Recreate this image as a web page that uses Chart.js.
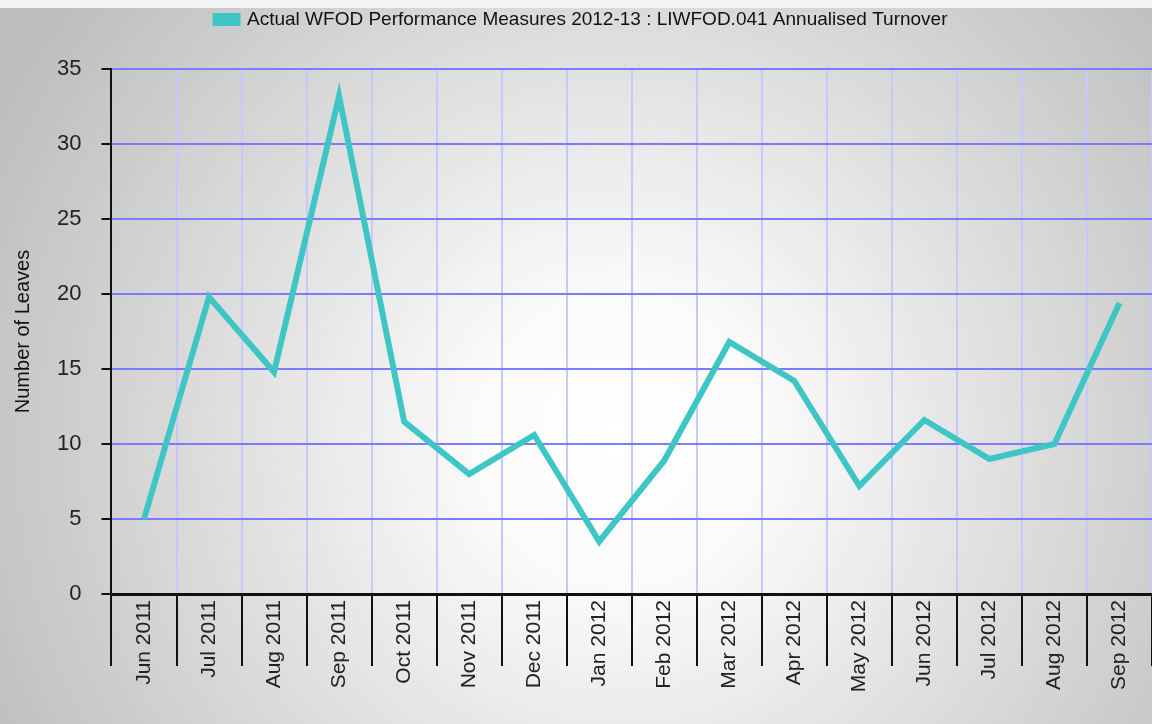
<!DOCTYPE html>
<html>
<head>
<meta charset="utf-8">
<script src="https://cdn.jsdelivr.net/npm/chart.js@4"></script>
<style>
html,body{margin:0;padding:0;background:#ffffff;}
#wrap{width:1152px;height:724px;}
</style>
</head>
<body>
<div id="wrap"><canvas id="c" width="1152" height="724"></canvas></div>
<script>
const categories = ["Jun 2011","Jul 2011","Aug 2011","Sep 2011","Oct 2011","Nov 2011","Dec 2011","Jan 2012","Feb 2012","Mar 2012","Apr 2012","May 2012","Jun 2012","Jul 2012","Aug 2012","Sep 2012"];
const turnover = [5.0,19.8,14.8,33.2,11.5,8.0,10.6,3.5,8.9,16.8,14.2,7.2,11.6,9.0,10.0,19.4];
const seriesLabel = "Actual WFOD Performance Measures 2012-13 : LIWFOD.041 Annualised Turnover";
const yTicks = [0,5,10,15,20,25,30,35];

const FONT = 'Liberation Sans, Arial, sans-serif';

const bgPlugin = {
  id: 'bg',
  beforeInit(chart) {
    const origFit = chart.legend.fit;
    chart.legend.fit = function () {
      origFit.call(this);
      this.height += 30;
    };
  },
  beforeDraw(chart) {
    const ctx = chart.ctx;
    const w = chart.width, h = chart.height;
    ctx.save();
    const g = ctx.createRadialGradient(620, 440, 0, 620, 440, 700);
    g.addColorStop(0, '#ffffff');
    g.addColorStop(0.2, '#fbfbfb');
    g.addColorStop(0.6, '#dcdcdc');
    g.addColorStop(1, '#bebebe');
    ctx.fillStyle = g;
    ctx.fillRect(0, 0, w, h);
    ctx.fillStyle = '#f4f4f4';
    ctx.fillRect(0, 0, w, 8);
    ctx.restore();
  }
};

new Chart(document.getElementById('c'), {
  type: 'line',
  data: {
    labels: categories,
    datasets: [{
      label: seriesLabel,
      data: turnover,
      borderColor: '#3ec6c6',
      backgroundColor: '#3ec6c6',
      borderWidth: 6,
      pointRadius: 0,
      tension: 0,
      fill: false
    }]
  },
  options: {
    responsive: false,
    animation: false,
    devicePixelRatio: 1,
    layout: { padding: { left: 11, right: 0, top: 0, bottom: 0 } },
    plugins: {
      legend: {
        display: true,
        position: 'top',
        labels: {
          boxWidth: 22,
          boxHeight: 7,
          color: '#111',
          padding: 10,
          font: { family: FONT, size: 19 }
        }
      },
      tooltip: { enabled: false }
    },
    scales: {
      x: {
        offset: true,
        afterFit(scale) { scale.height = 130; },
        grid: {
          offset: true,
          color: '#c8c8ff',
          lineWidth: 2,
          tickColor: '#111',
          tickLength: 72,
          tickWidth: 2
        },
        border: { color: '#111', width: 3 },
        ticks: {
          minRotation: 90,
          maxRotation: 90,
          autoSkip: false,
          padding: -66,
          color: '#222',
          font: { family: FONT, size: 21 }
        }
      },
      y: {
        min: 0,
        max: 35,
        afterBuildTicks(scale) { scale.ticks = yTicks.map(v => ({ value: v })); },
        grid: {
          color: '#7b7bff',
          lineWidth: 2,
          tickColor: '#111',
          tickLength: 10,
          tickWidth: 2
        },
        border: { color: '#111', width: 2 },
        ticks: {
          padding: 20,
          color: '#222',
          font: { family: FONT, size: 22 }
        },
        title: {
          display: true,
          text: 'Number of Leaves',
          color: '#111',
          padding: { top: 0, bottom: 2 },
          font: { family: FONT, size: 20 }
        }
      }
    }
  },
  plugins: [bgPlugin]
});
</script>
</body>
</html>
